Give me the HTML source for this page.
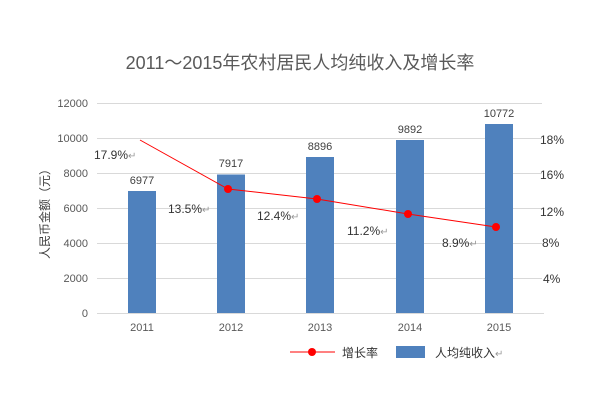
<!DOCTYPE html>
<html><head><meta charset="utf-8"><style>
body{margin:0;background:#fff}
svg text{font-family:"Liberation Sans","Noto Sans CJK SC",sans-serif}
</style></head><body>
<svg width="600" height="400" xmlns="http://www.w3.org/2000/svg">
<rect width="600" height="400" fill="#fff"/>
<text x="300" y="69" text-anchor="middle" font-size="18" fill="#595959">2011～2015年农村居民人均纯收入及增长率</text>
<g stroke="#d9d9d9" stroke-width="1">
<line x1="97" x2="542" y1="103.5" y2="103.5"/>
<line x1="97" x2="542" y1="138.5" y2="138.5"/>
<line x1="97" x2="542" y1="173.5" y2="173.5"/>
<line x1="97" x2="542" y1="208.5" y2="208.5"/>
<line x1="97" x2="542" y1="243.5" y2="243.5"/>
<line x1="97" x2="542" y1="278.5" y2="278.5"/>
<line x1="97" x2="544" y1="313.5" y2="313.5"/>
</g>
<g font-size="11" fill="#595959" text-anchor="end">
<text x="88" y="107">12000</text><text x="88" y="142">10000</text><text x="88" y="177">8000</text>
<text x="88" y="212">6000</text><text x="88" y="247">4000</text><text x="88" y="282">2000</text><text x="88" y="317">0</text>
</g>
<text transform="translate(49,211) rotate(-90)" text-anchor="middle" font-size="12" fill="#404040">人民币金额（元）</text>
<g fill="#4f81bd">
<rect x="128" y="191" width="28" height="122"/>
<rect x="217" y="174.5" width="28" height="138.5"/>
<rect x="306" y="157" width="28" height="156"/>
<rect x="396" y="140" width="28" height="173"/>
<rect x="485" y="124" width="28" height="189"/>
</g>
<g font-size="11" fill="#404040" text-anchor="middle">
<text x="142" y="184">6977</text><text x="231" y="167">7917</text><text x="320" y="150">8896</text>
<text x="410" y="133">9892</text><text x="499" y="117">10772</text>
</g>
<g font-size="11" fill="#595959" text-anchor="middle">
<text x="142" y="331">2011</text><text x="231" y="331">2012</text><text x="320" y="331">2013</text>
<text x="410" y="331">2014</text><text x="499" y="331">2015</text>
</g>
<polyline points="140,140 228,189 317,199 408,214 496,227" fill="none" stroke="#ff0000" stroke-width="1"/>
<g fill="#ff0000"><circle cx="228" cy="189" r="4"/><circle cx="317" cy="199" r="4"/><circle cx="408" cy="214" r="4"/><circle cx="496" cy="227" r="4"/></g>
<g font-size="12" fill="#333">
<text x="94" y="159">17.9%<tspan fill="#999" font-size="10">↵</tspan></text>
<text x="168" y="213">13.5%<tspan fill="#999" font-size="10">↵</tspan></text>
<text x="257" y="220">12.4%<tspan fill="#999" font-size="10">↵</tspan></text>
<text x="347" y="235">11.2%<tspan fill="#999" font-size="10">↵</tspan></text>
<text x="442" y="247">8.9%<tspan fill="#999" font-size="10">↵</tspan></text>
</g>
<g font-size="12" fill="#333">
<text x="540" y="144">18%</text><text x="540" y="179">16%</text><text x="540" y="216">12%</text>
<text x="542" y="247">8%</text><text x="543" y="283">4%</text>
</g>
<line x1="290" x2="335" y1="352" y2="352" stroke="#ff0000"/>
<circle cx="312" cy="352" r="4" fill="#ff0000"/>
<text x="342" y="357" font-size="12" fill="#333">增长率</text>
<rect x="396" y="346" width="29" height="12" fill="#4f81bd"/>
<text x="435" y="357" font-size="12" fill="#333">人均纯收入<tspan fill="#999" font-size="10">↵</tspan></text>
</svg>
</body></html>
